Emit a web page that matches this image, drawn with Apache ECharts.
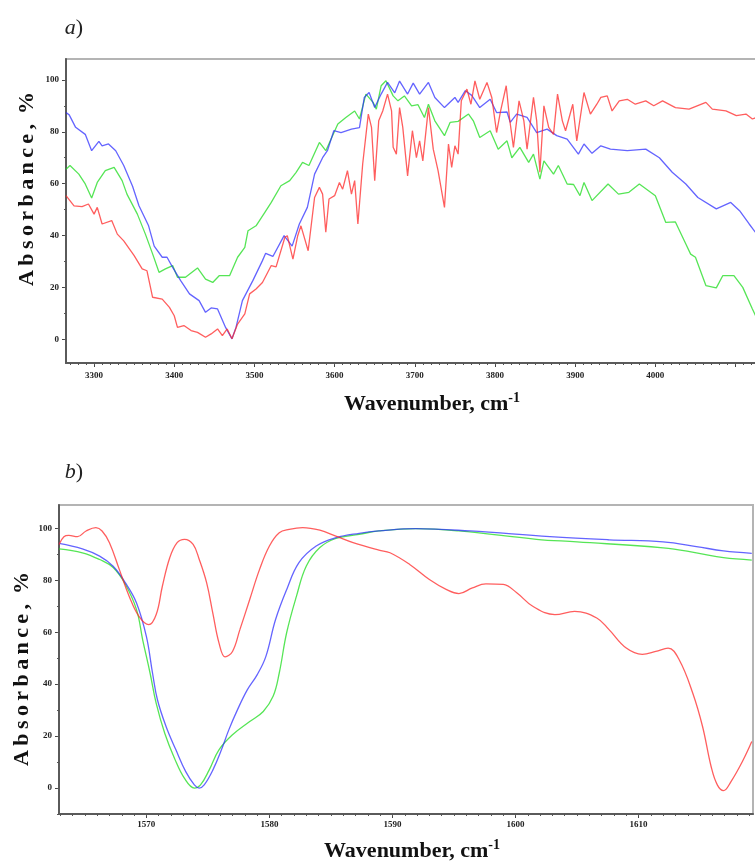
<!DOCTYPE html>
<html>
<head>
<meta charset="utf-8">
<title>Absorbance spectra</title>
<script src="https://cdn.jsdelivr.net/npm/echarts@6/dist/echarts.min.js"></script>
<style>
  html, body { margin: 0; padding: 0; background: #fff; }
  #chart { width: 755px; height: 865px; }
</style>
</head>
<body>
<div id="chart"></div>
<script>
// a) 3265 - 4128 cm-1, [wavenumber, absorbance %]
var aBlue = [[3265,87.4],[3269,86.5],[3277,81.7],[3289,79],[3297,72.7],[3306,76.3],[3310,74.6],[3318,75.3],[3327,72.7],[3337,67],[3348,59],[3356,51.5],[3368,43.8],[3375,36],[3385,31.7],[3391,31.7],[3398,27.8],[3408,22.7],[3419,17.6],[3431,15],[3439,10.5],[3446,12.2],[3454,11.8],[3464,4.7],[3472,0.3],[3477,4.7],[3485,15],[3498,22.7],[3510,30.4],[3514,33.2],[3523,32],[3537,40],[3547,36],[3556,44.5],[3566,50.9],[3575,63.7],[3585,70],[3591,72.7],[3599,80.4],[3608,79.7],[3621,81],[3631,81.6],[3637,93.2],[3643,95.1],[3650,89.3],[3658,94.5],[3666,99],[3675,95],[3681,99.5],[3691,94.5],[3698,98.7],[3706,94.5],[3717,99],[3725,93.2],[3737,89.3],[3750,93.2],[3754,91.3],[3763,95.8],[3771,94],[3781,89.3],[3794,92.5],[3802,87.4],[3815,87.6],[3819,83.6],[3827,86.8],[3840,85.5],[3852,79.7],[3865,81],[3877,78.5],[3890,77.2],[3904,71.4],[3911,75.3],[3921,71.7],[3932,74.6],[3944,73.3],[3965,72.7],[3988,73.3],[4005,70],[4021,64.4],[4038,59.9],[4053,54.7],[4076,50.3],[4094,52.8],[4105,49.6],[4117,44.5],[4128,40]];
var aGreen = [[3265,65.6],[3270,67],[3281,63.7],[3289,59.9],[3297,54.5],[3304,60.5],[3314,65],[3325,66.3],[3335,61.2],[3341,56],[3354,48.3],[3364,40.6],[3373,33],[3381,25.9],[3389,27.2],[3398,28.5],[3404,24],[3414,24],[3429,27.6],[3439,23.3],[3448,22],[3456,24.6],[3469,24.6],[3479,31.7],[3488,35.5],[3492,41.9],[3502,43.8],[3513,49],[3521,52.8],[3533,59.2],[3544,61.2],[3552,64.4],[3560,68.2],[3568,67],[3581,75.9],[3589,72.7],[3604,83],[3614,85.5],[3625,88],[3631,84.9],[3639,94.5],[3648,91.3],[3652,88.7],[3658,97.7],[3664,99.6],[3673,93.8],[3679,91.9],[3687,93.8],[3696,90],[3704,90.4],[3712,85.5],[3717,90.6],[3725,84.2],[3737,78.5],[3744,83.6],[3754,84],[3767,86.8],[3773,84.2],[3781,77.8],[3794,80.4],[3804,73.3],[3815,76.5],[3821,70],[3831,74],[3842,68.2],[3848,71.4],[3856,61.8],[3861,68.8],[3873,63.7],[3879,67],[3890,59.9],[3898,59.7],[3906,55.4],[3911,60.5],[3921,53.5],[3941,59.9],[3954,56],[3967,56.7],[3980,59.9],[4000,55.4],[4013,45.1],[4025,45.3],[4038,36.8],[4044,32.9],[4050,31.7],[4063,20.8],[4076,19.9],[4084,24.6],[4098,24.6],[4109,20.1],[4121,11.8],[4128,7.3]];
var aRed = [[3265,55.4],[3275,51.5],[3285,51.2],[3293,52.2],[3300,48.3],[3304,50.9],[3310,44.5],[3322,45.8],[3329,40.6],[3337,38],[3350,32.3],[3360,27.2],[3366,26.5],[3373,16.3],[3385,15.6],[3394,12.4],[3400,9.2],[3404,4.7],[3412,5.4],[3421,3.5],[3429,2.8],[3439,0.9],[3446,2.2],[3454,4.1],[3460,1.5],[3466,4.1],[3472,0.3],[3479,6],[3488,9.9],[3494,17.6],[3502,19.5],[3510,22],[3521,28.5],[3527,28],[3538,39.4],[3541,40],[3548,31],[3554,40],[3558,43.8],[3567,34.2],[3575,54.7],[3581,58.6],[3585,56],[3589,41.3],[3593,54.1],[3600,55.4],[3606,60.5],[3610,57.9],[3616,65],[3621,56],[3625,61.2],[3629,44.5],[3635,67.6],[3642,86.8],[3646,81.7],[3650,61.2],[3655,84.2],[3660,88],[3666,94.5],[3671,88],[3673,74],[3677,71.4],[3681,89.3],[3685,81.7],[3691,63],[3697,80.4],[3702,70],[3706,76.5],[3710,68.8],[3717,89.3],[3723,73.3],[3729,65],[3737,50.9],[3742,75.3],[3746,66.3],[3750,74.6],[3754,71.4],[3758,91.9],[3765,96.4],[3770,90.6],[3775,99.6],[3781,92.5],[3790,99],[3796,93.2],[3802,79.7],[3807,88],[3814,97.7],[3818,85.5],[3823,74],[3830,91.9],[3836,84.2],[3840,73.3],[3848,93.2],[3852,84.2],[3856,64.4],[3861,90],[3867,81.7],[3873,79],[3878,94.5],[3884,84.2],[3888,80.4],[3897,90.6],[3902,76.5],[3911,95.1],[3919,86.8],[3927,90.6],[3932,93.2],[3940,93.8],[3946,88],[3955,91.9],[3965,92.5],[3975,90.6],[3988,91.9],[3998,90],[4009,91.9],[4025,89.3],[4042,88.7],[4063,91.3],[4071,88.7],[4088,88],[4101,86.2],[4113,86.8],[4121,84.9],[4128,85.8]];

// b) 1563 - 1619 cm-1
var bRed = [[1562.9,93.8],[1563.3,96.8],[1563.7,97.3],[1564.4,96.8],[1565.1,99],[1565.9,100.3],[1566.4,99],[1567,94.5],[1567.8,84.2],[1568.6,73.9],[1569.4,66.1],[1570.2,62.9],[1570.8,66.8],[1571.3,77.7],[1571.9,88.7],[1572.5,94.5],[1573.1,95.8],[1573.8,93.8],[1574.3,88],[1574.9,79],[1575.4,67.4],[1575.9,55.9],[1576.4,50.5],[1577,52.6],[1577.6,61],[1578.4,72.6],[1579.2,84.2],[1580,93.2],[1580.8,98.3],[1581.6,99.6],[1582.7,100.3],[1584.1,99.3],[1585.4,97],[1586.8,94.5],[1588.9,91.6],[1589.8,90.6],[1591.4,86.1],[1593,80.3],[1594.4,76.4],[1595.4,74.9],[1596.5,77.1],[1597.6,78.6],[1599,78.4],[1600.1,75.2],[1601.4,70],[1603.2,66.8],[1604.8,68],[1606.6,65.5],[1607.6,61],[1609,53.9],[1610.3,51.5],[1611.4,52.6],[1612.4,53.9],[1613.3,49.4],[1614.4,36.6],[1615.2,23.7],[1615.9,8.2],[1616.4,1.2],[1616.9,-1],[1617.5,2.4],[1618.5,10.8],[1619.2,17.9]];
var bBlue = [[1562.9,94.2],[1564.8,92.1],[1566.2,89.3],[1567.3,85.4],[1568.3,79],[1569.2,71.3],[1570,58.4],[1570.5,44.3],[1570.9,34],[1571.6,23.7],[1572.4,14.7],[1573.2,6.3],[1573.9,1.2],[1574.3,0],[1574.7,1.2],[1575.4,6.9],[1576.1,14.7],[1576.7,22.4],[1577.4,30.1],[1578.2,37.8],[1579,43.6],[1579.7,50.5],[1580.5,64.9],[1581.4,76.4],[1582.4,86.8],[1583.8,93.2],[1585.4,96.4],[1587.3,98.1],[1588.9,99],[1591.9,99.9],[1596.3,99],[1602.8,96.8],[1607.6,95.6],[1612,94.8],[1614.7,93],[1616.9,91.3],[1619.2,90.4]];
var bGreen = [[1562.9,92.1],[1564.8,90.6],[1566.2,88],[1567.3,84.9],[1568.3,78.4],[1569.2,68.7],[1569.7,57.1],[1570.3,44.3],[1570.8,32.6],[1571.5,21],[1572.3,11.3],[1573.1,3.7],[1573.9,0],[1574.4,1.2],[1575.1,6.9],[1575.9,14.7],[1577,20.5],[1578.4,25.6],[1579.5,29.5],[1580.3,35.3],[1580.8,44.3],[1581.4,59.8],[1582.2,73.9],[1583,85.5],[1584.1,92.6],[1585.4,96.1],[1587.3,97.7],[1588.9,99],[1591.9,99.9],[1595.4,99],[1601.7,95.8],[1605,94.8],[1612,92.5],[1614.7,90.6],[1616.9,88.7],[1619.2,87.8]];

// tick labels
var aXLabels = [3300, 3400, 3500, 3600, 3700, 3800, 3900, 4000];
var bXLabels = [1570, 1580, 1590, 1600, 1610];
var yLabels = [0, 20, 40, 60, 80, 100];

var RED = "rgba(255,40,40,0.75)";
var BLUE = "rgba(40,40,255,0.72)";
var GREEN = "rgba(30,220,30,0.75)";
var SERIF = '"Liberation Serif", "DejaVu Serif", serif';

function range(from, to, step) {
  var arr = [];
  for (var v = from; v <= to + 1e-9; v += step) arr.push(+v.toFixed(3));
  return arr;
}

// 主轴（刻度+标签）和次轴（小刻度）
function axisPair(dim, gridIndex, min, max, labels, majors, minors, margin) {
  var pos = dim == "x" ? "bottom" : "left";
  var main = {
    type: "value",
    gridIndex: gridIndex,
    position: pos,
    min: min,
    max: max,
    axisLine: { show: true, onZero: false, lineStyle: { color: "#5a5a5a", width: 2 } },
    axisTick: { show: true, customValues: majors, length: 4, lineStyle: { color: "#444", width: 1 } },
    axisLabel: {
      customValues: labels,
      margin: margin,
      fontFamily: SERIF,
      fontWeight: "bold",
      fontSize: 9,
      color: "#222",
      formatter: function (v) {
        return String(v);
      },
    },
    splitLine: { show: false },
  };
  var minor = {
    type: "value",
    gridIndex: gridIndex,
    position: pos,
    min: min,
    max: max,
    axisLine: { show: false, onZero: false },
    axisTick: { show: true, customValues: minors, length: 2, lineStyle: { color: "#555", width: 1 } },
    axisLabel: { show: false },
    splitLine: { show: false },
  };
  return [main, minor];
}

var ax = axisPair("x", 0, 3265, 4128, aXLabels, range(3300, 4100, 100), range(3270, 4120, 10), 8);
var ay = axisPair("y", 0, -9, 108, yLabels, range(0, 100, 20), range(0, 100, 10), 7);
var bx = axisPair("x", 1, 1562.9, 1619.3, bXLabels, range(1570, 1610, 10), range(1563, 1619, 1), 6);
var by = axisPair("y", 1, -10, 109, yLabels, range(0, 100, 20), range(-10, 100, 10), 7);

function line(data, color, xi, yi, smooth) {
  return {
    type: "line",
    data: data,
    xAxisIndex: xi,
    yAxisIndex: yi,
    showSymbol: false,
    smooth: smooth ? 0.4 : false,
    lineStyle: { color: color, width: 1.3 },
    silent: true,
    animation: false,
  };
}

function title(x, y, rot, text) {
  return {
    type: "text",
    x: x,
    y: y,
    rotation: rot,
    style: {
      text: text,
      x: 0,
      y: 0,
      align: "center",
      verticalAlign: "middle",
      fill: "#111",
      rich: {
        t: { fontFamily: SERIF, fontWeight: "bold", fontSize: 22, lineHeight: 26, fill: "#111" },
        s: { fontFamily: SERIF, fontWeight: "bold", fontSize: 14, verticalAlign: "top", lineHeight: 14, fill: "#111" },
        i: { fontFamily: SERIF, fontStyle: "italic", fontSize: 22, fill: "#222" },
        p: { fontFamily: SERIF, fontSize: 22, fill: "#222" },
      },
    },
  };
}

var ySpaced = "{t|A\u2009b\u2009s\u2009o\u2009r\u2009b\u2009a\u2009n\u2009c\u2009e\u2009, \u2009%}";
var xTitle = "{t|Wavenumber, cm}{s|-1}";

var options = {
  animation: false,
  backgroundColor: "#fff",
  grid: [
    { left: 66, top: 59, width: 692, height: 304, show: true, borderColor: "#b4b4b4", borderWidth: 2, outerBoundsMode: "none" },
    { left: 59, top: 505, width: 694, height: 309, show: true, borderColor: "#b4b4b4", borderWidth: 2, outerBoundsMode: "none" },
  ],
  xAxis: [ax[0], ax[1], bx[0], bx[1]],
  yAxis: [ay[0], ay[1], by[0], by[1]],
  series: [
    line(aGreen, GREEN, 0, 0, false),
    line(aBlue, BLUE, 0, 0, false),
    line(aRed, RED, 0, 0, false),
    line(bGreen, GREEN, 2, 2, true),
    line(bBlue, BLUE, 2, 2, true),
    line(bRed, RED, 2, 2, true),
  ],
  graphic: [
    title(74, 28, 0, "{i|a}{p|)}"),
    title(74, 472, 0, "{i|b}{p|)}"),
    title(27, 189, Math.PI / 2, ySpaced),
    title(22, 669, Math.PI / 2, ySpaced),
    title(432, 404, 0, xTitle),
    title(412, 851, 0, xTitle),
  ],
};

var myChart = echarts.init(document.getElementById("chart"));
myChart.setOption(options);
</script>
</body>
</html>
